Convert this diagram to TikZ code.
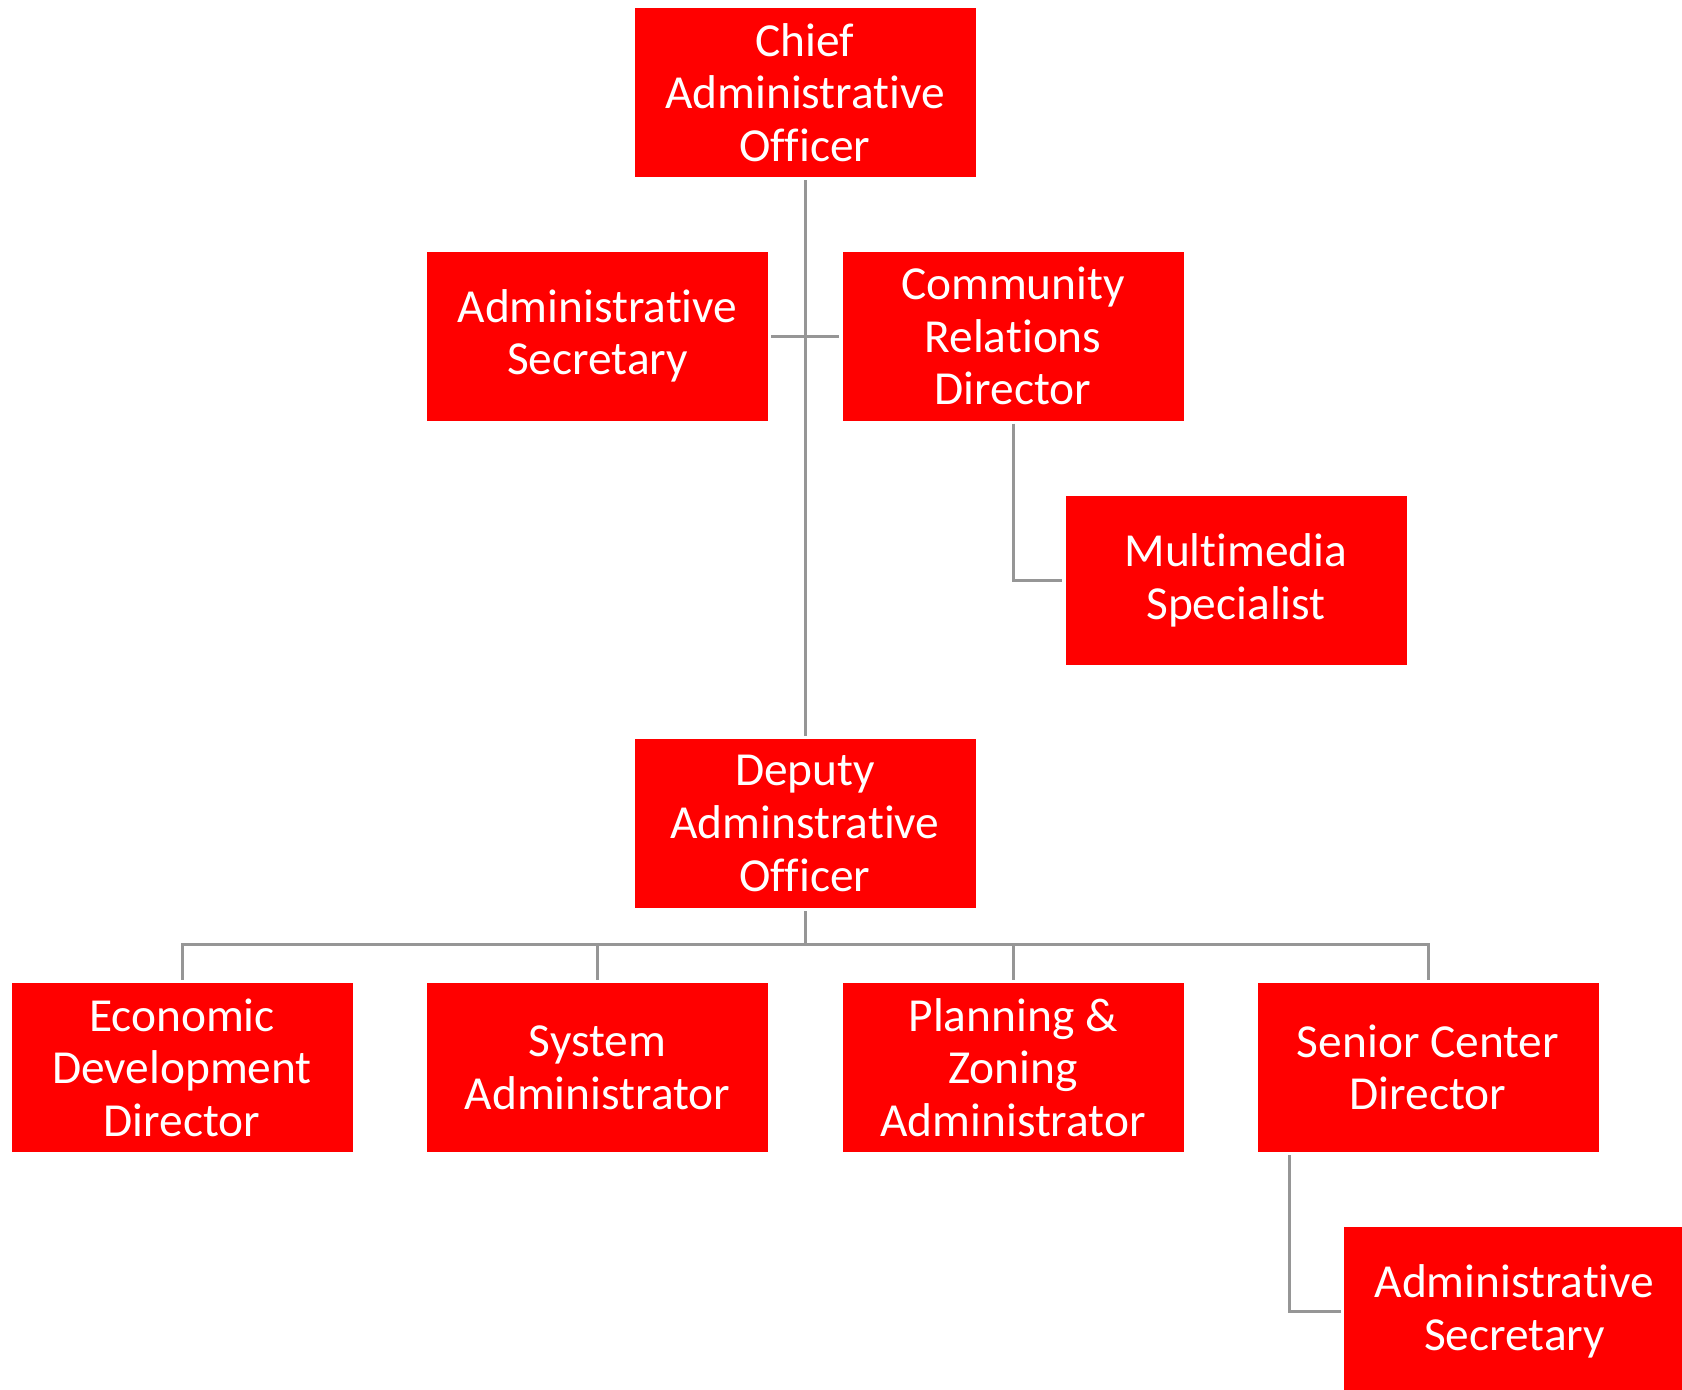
\documentclass[tikz,border=0pt]{standalone}
\usepackage{fontspec}
\setmainfont{Carlito}[Ligatures=NoCommon]
\begin{document}
\begin{tikzpicture}[x=1pt,y=-1pt,
  role/.style={fill={rgb,255:red,255;green,0;blue,0}, text=white,
    minimum width=341pt, minimum height=169pt, inner sep=0pt,
    align=center, font=\fontsize{47.4}{52.6}\selectfont},
  link/.style={draw={rgb,255:red,150;green,150;blue,150}, line width=3pt,
    shorten <=3pt, shorten >=3pt}]
\useasboundingbox (0,0) rectangle (1682,1390);
\begin{scope}
\clip (0,0) rectangle (1682,1390);
% upper part
\node[role] (cao) at (805,92.5) {Chief\\Administrative\\Officer};
\node[role] (asec) at (597.5,336) {Administrative\\Secretary};
\node[role] (crd) at (1013,336) {Community\\Relations\\Director};
\node[role] (mm) at (1236,580.5) {Multimedia\\Specialist};
\node[role] (dao) at (805,823.5) {Deputy\\Adminstrative\\Officer};
% lower row
\node[role] (econ) at (182,1067.5) {Economic\\Development\\Director};
\node[role] (sys) at (597.5,1067.5) {System\\Administrator};
\node[role] (plan) at (1013,1067.5) {Planning \&\\Zoning\\Administrator};
\node[role] (senior) at (1428,1067.5) {Senior Center\\Director};
\node[role] (asec2) at (1514.5,1311.5) {Administrative\\Secretary};
% connectors
\draw[link] (cao.south) -- (dao.north);
\draw[link] (asec.east) -- (crd.west);
\draw[link] (crd.south) |- (mm.west);
\foreach \c in {econ,sys,plan,senior}
  \draw[link] (dao.south) -- ++(0,36.5) -| (\c.north);
\draw[link] ([xshift=32pt]senior.south west) |- (asec2.west);
\end{scope}
\end{tikzpicture}
\end{document}
